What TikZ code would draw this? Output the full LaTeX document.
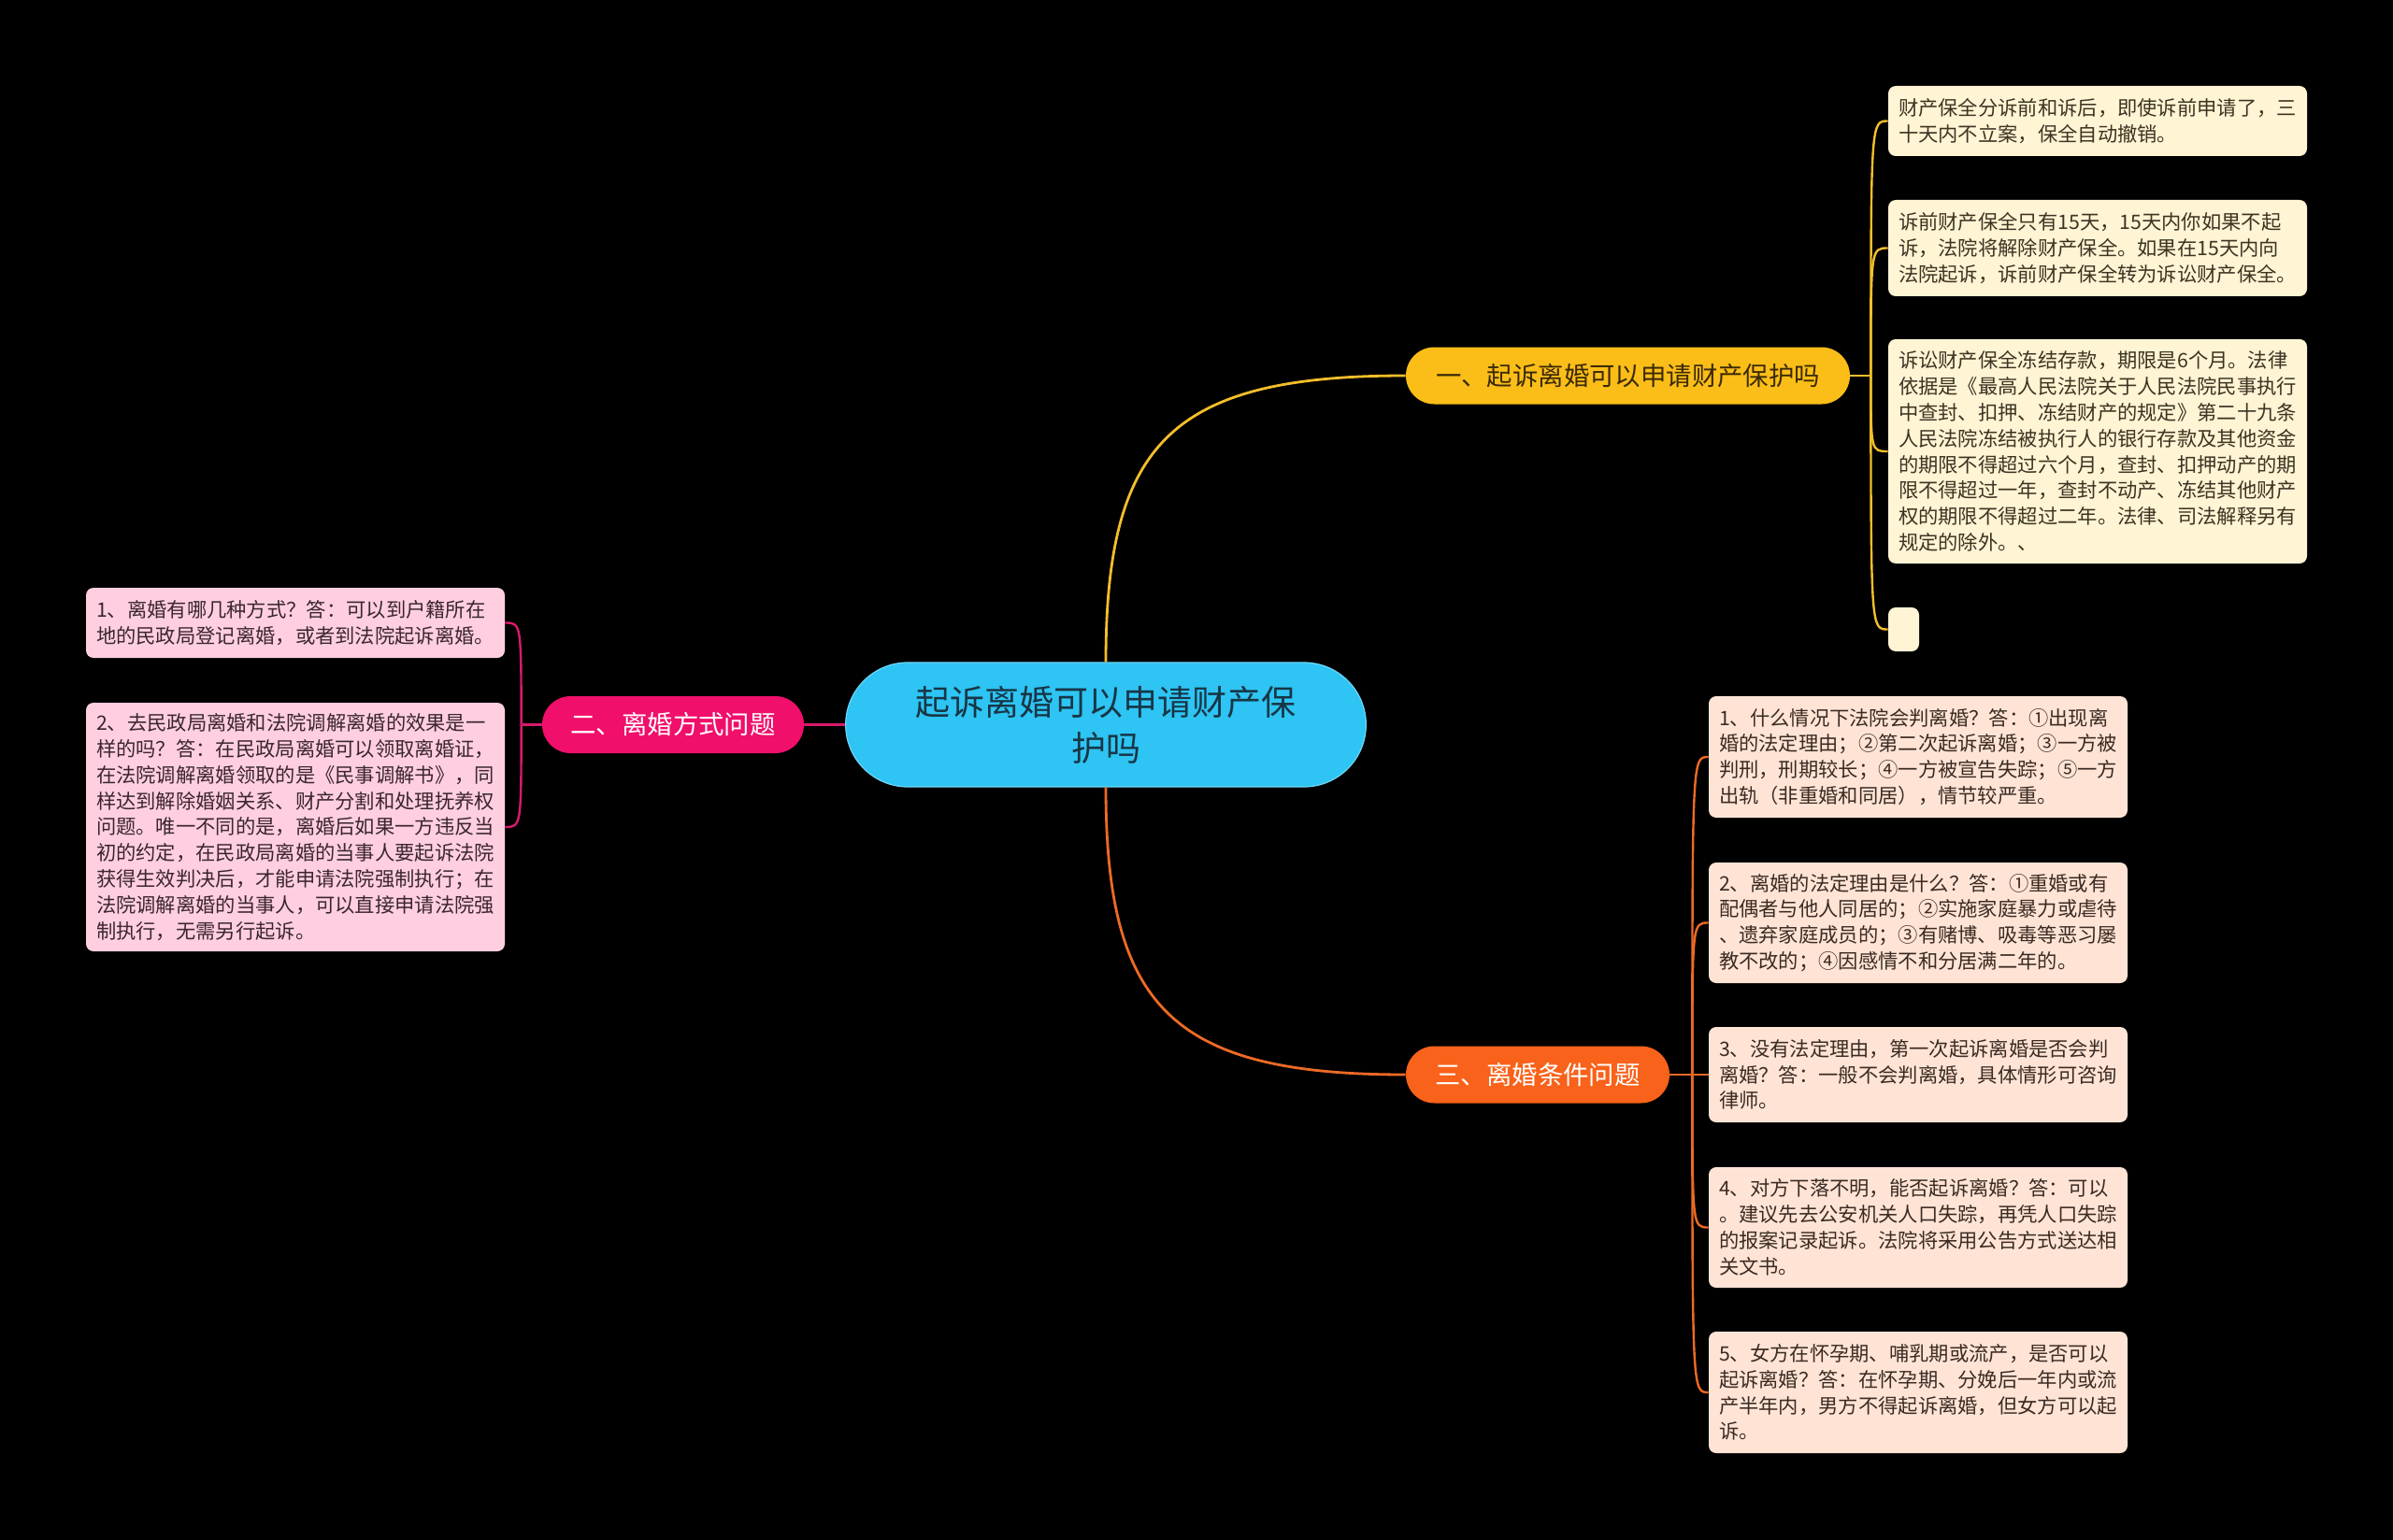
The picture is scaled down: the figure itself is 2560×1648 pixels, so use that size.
\documentclass[tikz,border=0pt]{standalone}
\usepackage{fontspec}
\setmainfont{Noto Sans CJK SC}
\usetikzlibrary{shapes.misc}
\definecolor{cyanfill}{HTML}{2EC4F3}
\definecolor{cyantext}{HTML}{173646}
\definecolor{yfill}{HTML}{FBBD18}
\definecolor{ytext}{HTML}{3A2A05}
\definecolor{yline}{HTML}{F4BE2A}
\definecolor{mfill}{HTML}{F00F6B}
\definecolor{mline}{HTML}{D81A6D}
\definecolor{ofill}{HTML}{F8621A}
\definecolor{oline}{HTML}{EE6A25}
\definecolor{creamfill}{HTML}{FFF4D4}
\definecolor{creamtext}{HTML}{3C3322}
\definecolor{pinkfill}{HTML}{FFCFE1}
\definecolor{pinktext}{HTML}{3B2530}
\definecolor{peachfill}{HTML}{FFE4D6}
\definecolor{peachtext}{HTML}{3B2A22}
\begin{document}
\begin{tikzpicture}[x=0.5pt,y=-0.5pt,
  rootbox/.style={rounded rectangle, fill=cyanfill, draw=cyanfill!70!white, line width=0.6pt,
    text=cyantext, minimum width=285pt, minimum height=66.5pt, text width=215pt, align=center,
    font=\fontsize{18.5pt}{24.5pt}\selectfont},
  branchbox/.style={rounded rectangle, minimum height=30.5pt, inner xsep=0pt,
    font=\fontsize{13.7pt}{16pt}\selectfont},
  leafbox/.style={rounded corners=4pt, inner xsep=5.5pt, inner ysep=2pt, text width=213pt,
    align=left, font=\fontsize{10.65pt}{13.9pt}\selectfont},
  creamleaf/.style={leafbox, fill=creamfill, text=creamtext},
  pinkleaf/.style={leafbox, fill=pinkfill, text=pinktext},
  peachleaf/.style={leafbox, fill=peachfill, text=peachtext},
  ylink/.style={draw=yline, line width=1.4pt},
  mlink/.style={draw=mline, line width=1.4pt},
  olink/.style={draw=oline, line width=1.4pt},
  ylinkthin/.style={draw=yline, line width=1.2pt},
  mlinkthin/.style={draw=mline, line width=1.2pt},
  olinkthin/.style={draw=oline, line width=1.2pt}
]
\fill[black] (0,0) rectangle (2560,1648);
\useasboundingbox (0,0) rectangle (2560,1648);

% root
\node[rootbox] (root) at (1183,775.5) {起诉离婚可以申请财产保\\护吗};

% branches
\node[branchbox, fill=yfill, text=ytext, minimum width=237.5pt] (b1) at (1741.5,402) {一、起诉离婚可以申请财产保护吗};
\node[branchbox, fill=mfill, text=white, minimum width=140pt] (b2) at (720,775.5) {二、离婚方式问题};
\node[branchbox, fill=ofill, text=white, minimum width=141pt] (b3) at (1645,1150) {三、离婚条件问题};

% leaves of branch 1
\node[creamleaf, minimum height=37.5pt] (l1) at (2244,129.5) {财产保全分诉前和诉后，即使诉前申请了，三\\十天内不立案，保全自动撤销。};
\node[creamleaf, minimum height=51.5pt] (l2) at (2244,265.5) {诉前财产保全只有15天，15天内你如果不起\\诉，法院将解除财产保全。如果在15天内向\\法院起诉，诉前财产保全转为诉讼财产保全。};
\node[creamleaf, minimum height=120pt] (l3) at (2244,483) {诉讼财产保全冻结存款，期限是6个月。法律\\依据是《最高人民法院关于人民法院民事执行\\中查封、扣押、冻结财产的规定》第二十九条\\人民法院冻结被执行人的银行存款及其他资金\\的期限不得超过六个月，查封、扣押动产的期\\限不得超过一年，查封不动产、冻结其他财产\\权的期限不得超过二年。法律、司法解释另有\\规定的除外。、};
\node[rounded corners=4pt, fill=creamfill, minimum width=16.5pt, minimum height=23.5pt, inner sep=0pt] (l4) at (2036.5,673.5) {};

% leaves of branch 2
\node[pinkleaf, minimum height=37.5pt] (p1) at (316,666.5) {1、离婚有哪几种方式？答：可以到户籍所在\\地的民政局登记离婚，或者到法院起诉离婚。};
\node[pinkleaf, minimum height=133pt] (p2) at (316,885) {2、去民政局离婚和法院调解离婚的效果是一\\样的吗？答：在民政局离婚可以领取离婚证，\\在法院调解离婚领取的是《民事调解书》，同\\样达到解除婚姻关系、财产分割和处理抚养权\\问题。唯一不同的是，离婚后如果一方违反当\\初的约定，在民政局离婚的当事人要起诉法院\\获得生效判决后，才能申请法院强制执行；在\\法院调解离婚的当事人，可以直接申请法院强\\制执行，无需另行起诉。};

% leaves of branch 3
\node[peachleaf, minimum height=65pt] (o1) at (2052,810) {1、什么情况下法院会判离婚？答：①出现离\\婚的法定理由；②第二次起诉离婚；③一方被\\判刑，刑期较长；④一方被宣告失踪；⑤一方\\出轨（非重婚和同居），情节较严重。};
\node[peachleaf, minimum height=64.5pt] (o2) at (2052,987.5) {2、离婚的法定理由是什么？答：①重婚或有\\配偶者与他人同居的；②实施家庭暴力或虐待\\、遗弃家庭成员的；③有赌博、吸毒等恶习屡\\教不改的；④因感情不和分居满二年的。};
\node[peachleaf, minimum height=51pt] (o3) at (2052,1150) {3、没有法定理由，第一次起诉离婚是否会判\\离婚？答：一般不会判离婚，具体情形可咨询\\律师。};
\node[peachleaf, minimum height=64.5pt] (o4) at (2052,1313.5) {4、对方下落不明，能否起诉离婚？答：可以\\。建议先去公安机关人口失踪，再凭人口失踪\\的报案记录起诉。法院将采用公告方式送达相\\关文书。};
\node[peachleaf, minimum height=65pt] (o5) at (2052,1490) {5、女方在怀孕期、哺乳期或流产，是否可以\\起诉离婚？答：在怀孕期、分娩后一年内或流\\产半年内，男方不得起诉离婚，但女方可以起\\诉。};

% root to branches
\draw[ylink] (root.north) .. controls +(0,-235) and +(-250,0) .. (b1.west);
\draw[olink] (root.south) .. controls +(0,235) and +(-250,0) .. (b3.west);
\draw[mlink] (root.west) -- (b2.east);

% branch 1 bracket
\draw[ylinkthin] (b1.east) -- ++(22,0) coordinate (j1);
\foreach \n in {l1,l2,l3,l4}
  \draw[ylinkthin] (j1) .. controls (j1 |- \n.west) and (j1 |- \n.west) .. (\n.west);

% branch 2 bracket
\draw[mlinkthin] (b2.west) -- ++(-22,0) coordinate (j2);
\foreach \n in {p1,p2}
  \draw[mlinkthin] (j2) .. controls (j2 |- \n.east) and (j2 |- \n.east) .. (\n.east);

% branch 3 bracket
\draw[olinkthin] (b3.east) -- ++(24,0) coordinate (j3);
\foreach \n in {o1,o2,o3,o4,o5}
  \draw[olinkthin] (j3) .. controls (j3 |- \n.west) and (j3 |- \n.west) .. (\n.west);
\end{tikzpicture}
\end{document}
